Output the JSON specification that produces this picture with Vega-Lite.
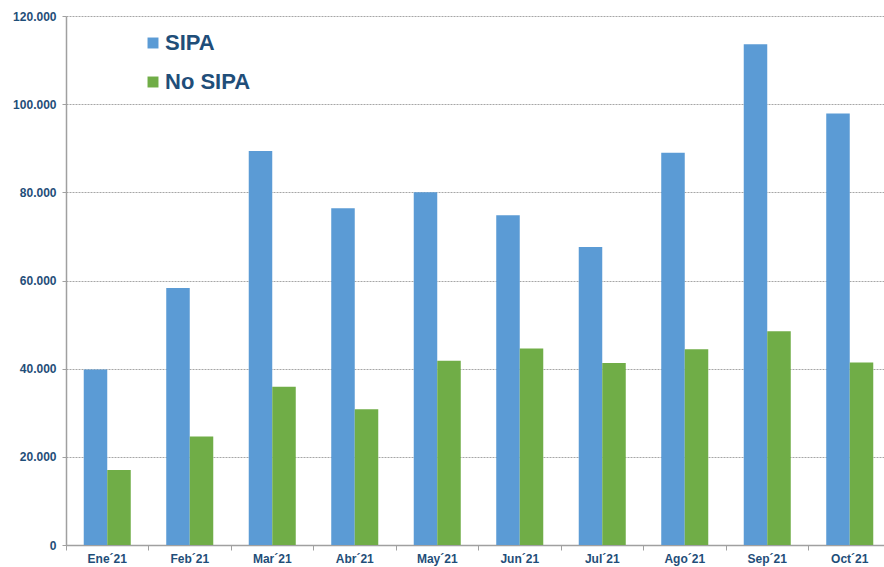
{
  "$schema": "https://vega.github.io/schema/vega-lite/v6.json",
  "width": 825,
  "height": 529,
  "autosize": {"type": "none"},
  "padding": {"left": 66, "top": 16, "right": 0, "bottom": 22},
  "background": "white",
  "config": {
    "view": {"stroke": null},
    "locale": {"number": {"decimal": ",", "thousands": ".", "grouping": [3], "currency": ["", ""]}},
    "font": "Liberation Sans"
  },
  "data": {
    "values": [
      {"mes": "Ene´21", "serie": "SIPA", "valor": 39800},
      {"mes": "Ene´21", "serie": "No SIPA", "valor": 17000},
      {"mes": "Feb´21", "serie": "SIPA", "valor": 58300},
      {"mes": "Feb´21", "serie": "No SIPA", "valor": 24600},
      {"mes": "Mar´21", "serie": "SIPA", "valor": 89400},
      {"mes": "Mar´21", "serie": "No SIPA", "valor": 35900},
      {"mes": "Abr´21", "serie": "SIPA", "valor": 76400},
      {"mes": "Abr´21", "serie": "No SIPA", "valor": 30800},
      {"mes": "May´21", "serie": "SIPA", "valor": 80000},
      {"mes": "May´21", "serie": "No SIPA", "valor": 41800},
      {"mes": "Jun´21", "serie": "SIPA", "valor": 74800},
      {"mes": "Jun´21", "serie": "No SIPA", "valor": 44600},
      {"mes": "Jul´21", "serie": "SIPA", "valor": 67600},
      {"mes": "Jul´21", "serie": "No SIPA", "valor": 41300},
      {"mes": "Ago´21", "serie": "SIPA", "valor": 89000},
      {"mes": "Ago´21", "serie": "No SIPA", "valor": 44400},
      {"mes": "Sep´21", "serie": "SIPA", "valor": 113600},
      {"mes": "Sep´21", "serie": "No SIPA", "valor": 48500},
      {"mes": "Oct´21", "serie": "SIPA", "valor": 97900},
      {"mes": "Oct´21", "serie": "No SIPA", "valor": 41400}
    ]
  },
  "mark": {"type": "bar"},
  "encoding": {
    "x": {
      "field": "mes",
      "type": "nominal",
      "sort": null,
      "title": null,
      "scale": {"paddingInner": 0, "paddingOuter": 0},
      "axis": {
        "bandPosition": 0,
        "labelAngle": 0,
        "labelFont": "Liberation Sans",
        "labelFontWeight": "bold",
        "labelFontSize": 12,
        "labelColor": "#1F4E79",
        "labelPadding": 3,
        "tickColor": "#A0A0A0",
        "tickSize": 5,
        "domainColor": "#A0A0A0",
        "domainWidth": 1.5,
        "grid": false
      }
    },
    "xOffset": {
      "field": "serie",
      "type": "nominal",
      "sort": ["SIPA", "No SIPA"],
      "scale": {"paddingInner": 0, "paddingOuter": 0.755}
    },
    "y": {
      "field": "valor",
      "type": "quantitative",
      "title": null,
      "scale": {"domain": [0, 120000], "nice": false},
      "axis": {
        "values": [0, 20000, 40000, 60000, 80000, 100000, 120000],
        "format": ",d",
        "labelFont": "Liberation Sans",
        "labelFontWeight": "bold",
        "labelFontSize": 12,
        "labelColor": "#1F4E79",
        "labelPadding": 6,
        "tickColor": "#A0A0A0",
        "tickSize": 4,
        "domainColor": "#A0A0A0",
        "domainWidth": 1.5,
        "grid": true,
        "gridColor": "#A6A6A6",
        "gridDash": [2, 1],
        "gridWidth": 1
      }
    },
    "color": {
      "field": "serie",
      "type": "nominal",
      "sort": ["SIPA", "No SIPA"],
      "scale": {"domain": ["SIPA", "No SIPA"], "range": ["#5B9BD5", "#70AD47"]},
      "legend": {
        "title": null,
        "orient": "none",
        "legendX": 76,
        "legendY": 16,
        "symbolType": "square",
        "symbolSize": 120,
        "symbolStrokeWidth": 0,
        "labelFont": "Liberation Sans",
        "labelFontWeight": "bold",
        "labelFontSize": 22,
        "labelColor": "#1F4E79",
        "labelOffset": 1,
        "rowPadding": 17
      }
    }
  }
}
